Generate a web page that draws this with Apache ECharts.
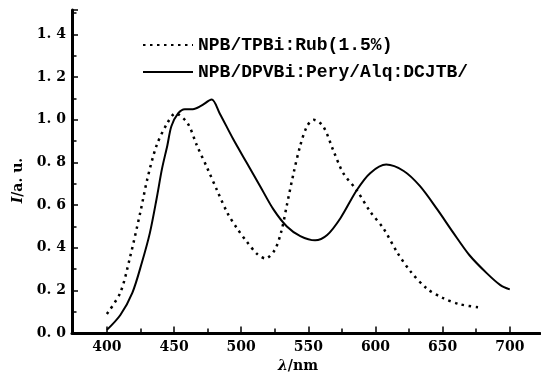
<!DOCTYPE html>
<html>
<head>
<meta charset="utf-8">
<script src="https://cdn.jsdelivr.net/npm/echarts@6/dist/echarts.min.js"></script>
<style>html,body{margin:0;padding:0;background:#fff;}#c{width:541px;height:378px;}</style>
</head>
<body>
<div id="c"></div>
<script>
var seriesNames = ['NPB/TPBi:Rub(1.5%)', 'NPB/DPVBi:Pery/Alq:DCJTB/'];
var xTickLabels = [400, 450, 500, 550, 600, 650, 700];
var xMinorTicks = [425, 475, 525, 575, 625, 675];
var rubX = [400,410,417,425,430,437,445,451,460,467,475,482,490,497,504,512,518,525,530,534,539,544,549,554,561,569,576,586,596,606,616,626,638,650,663,678];
var rubY = [0.09,0.19,0.35,0.57,0.72,0.88,0.985,1.03,0.985,0.88,0.77,0.67,0.56,0.49,0.43,0.37,0.35,0.39,0.48,0.6,0.75,0.88,0.97,1.0,0.97,0.85,0.75,0.67,0.57,0.49,0.38,0.29,0.21,0.165,0.135,0.12];
var dcjtbX = [400,410,419,426,432,437,441,445,448,453,458,464,470,478,484,494,504,514,524,534,544,555,564,574,586,596,608,621,633,646,658,670,683,693,700];
var dcjtbY = [0.015,0.085,0.19,0.33,0.47,0.63,0.77,0.88,0.97,1.03,1.05,1.05,1.065,1.095,1.03,0.91,0.8,0.69,0.58,0.5,0.455,0.435,0.46,0.54,0.67,0.75,0.79,0.76,0.69,0.58,0.47,0.365,0.28,0.225,0.205];

function pairs(xs, ys) { return xs.map(function (x, i) { return [x, ys[i]]; }); }

var labelFont = 'DejaVu Serif';
var chart = echarts.init(document.getElementById('c'));
chart.setOption({
  animation: false,
  backgroundColor: '#fff',
  grid: { left: 72, right: 1, top: 10, bottom: 44 },
  legend: {
    orient: 'vertical', left: 142, top: 36, padding: 0,
    itemWidth: 50, itemHeight: 14, itemGap: 9,
    itemStyle: { opacity: 0, borderWidth: 0 },
    textStyle: { fontFamily: 'Liberation Mono', fontWeight: 'bold', fontSize: 18, color: '#000' },
    data: seriesNames
  },
  xAxis: [{
    type: 'value', min: 374, max: 722.5,
    name: '{i|λ}/nm', nameLocation: 'middle', nameGap: 24,
    nameTextStyle: {
      fontFamily: labelFont, fontWeight: 'bold', fontSize: 14, color: '#000', padding: [0, 16, 0, 0],
      rich: { i: { fontFamily: labelFont, fontStyle: 'italic', fontWeight: 'bold', fontSize: 14, color: '#000' } }
    },
    axisLine: { lineStyle: { color: '#000', width: 3 } },
    axisTick: { inside: true, length: 6.5, customValues: xTickLabels, lineStyle: { color: '#000', width: 1.5 } },
    splitLine: { show: false },
    axisLabel: {
      margin: 7, fontFamily: labelFont, fontWeight: 'bold', fontSize: 14, color: '#000',
      customValues: xTickLabels
    }
  }, {
    type: 'value', min: 374, max: 722.5, position: 'bottom', offset: 0,
    axisLine: { show: false },
    axisTick: { show: true, inside: true, length: 4.5, customValues: xMinorTicks, lineStyle: { color: '#000', width: 1.5 } },
    axisLabel: { show: false },
    splitLine: { show: false }
  }],
  yAxis: {
    type: 'value', min: 0, max: 1.515, interval: 0.2,
    name: '{i|I}/a. u.', nameLocation: 'middle', nameGap: 47,
    nameTextStyle: {
      fontFamily: labelFont, fontWeight: 'bold', fontSize: 14, color: '#000', padding: [0, 18, 0, 0],
      rich: { i: { fontFamily: labelFont, fontStyle: 'italic', fontWeight: 'bold', fontSize: 14, color: '#000' } }
    },
    axisLine: { show: true, lineStyle: { color: '#000', width: 3 } },
    axisTick: { show: true, inside: true, length: 6, lineStyle: { color: '#000', width: 1.5 } },
    minorTick: { show: true, splitNumber: 2, length: 4.5, lineStyle: { color: '#000', width: 1.5 } },
    splitLine: { show: false },
    axisLabel: {
      margin: 6, fontFamily: labelFont, fontWeight: 'bold', fontSize: 14, color: '#000',
      formatter: function (v) {
        var r = Math.round(v * 10);
        if (Math.abs(v * 10 - r) > 1e-6 || r % 2 !== 0) return '';
        return (r / 10).toFixed(1).replace('.', '. ');
      }
    }
  },
  series: [
    {
      name: seriesNames[0], type: 'line', smooth: 0.3, showSymbol: false, symbol: 'none',
      xAxisIndex: 0, data: pairs(rubX, rubY), color: '#000',
      lineStyle: { color: '#000', width: 2.5, type: [2.5, 4.5], cap: 'butt' }
    },
    {
      name: seriesNames[1], type: 'line', smooth: 0.3, showSymbol: false, symbol: 'none',
      xAxisIndex: 0, data: pairs(dcjtbX, dcjtbY), color: '#000',
      lineStyle: { color: '#000', width: 2 }
    }
  ]
});
</script>
</body>
</html>
